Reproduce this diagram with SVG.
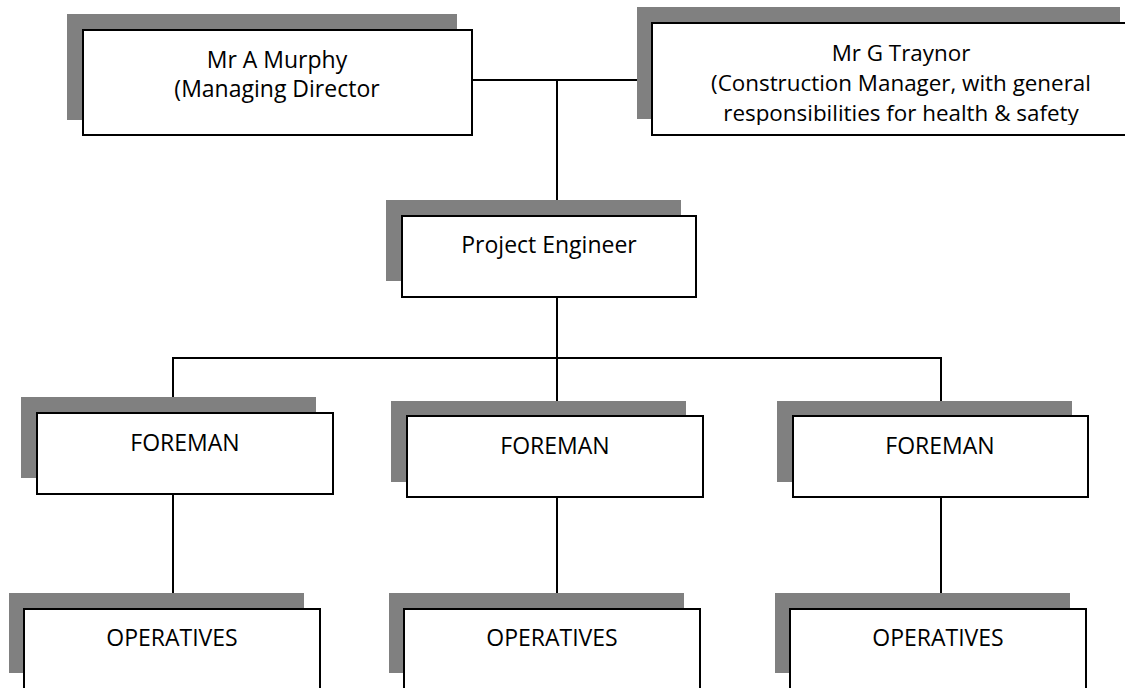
<svg xmlns="http://www.w3.org/2000/svg" width="1125" height="688" viewBox="0 0 1125 688">
<style>
.sh{fill:#808080;stroke:none}
.bx{fill:#fff;stroke:#000;stroke-width:2}
.t{font-family:"Open Sans","Liberation Sans",sans-serif;font-size:23px;fill:#000;text-anchor:middle}
.t2{font-size:22.4px}
.c{stroke:#000;stroke-width:2;fill:none}
</style>
<defs>
<clipPath id="clipT"><rect x="652" y="23" width="480" height="102"/></clipPath>
</defs>
<rect width="1125" height="688" fill="#fff"/>
<g id="connectors">
<line class="c" x1="472" y1="80" x2="652" y2="80"/>
<line class="c" x1="557" y1="80" x2="557" y2="216"/>
<line class="c" x1="557" y1="297" x2="557" y2="416"/>
<polyline class="c" points="173,413 173,358 941,358 941,416"/>
<line class="c" x1="173" y1="494" x2="173" y2="609"/>
<line class="c" x1="557" y1="497" x2="557" y2="609"/>
<line class="c" x1="941" y1="497" x2="941" y2="609"/>
</g>
<g id="murphy">
<rect class="sh" x="67" y="14" width="390" height="106"/>
<rect class="bx" x="83" y="30" width="389" height="105"/>
<text class="t" x="277" y="68">Mr A Murphy</text>
<text class="t" x="277" y="97">(Managing Director</text>
</g>
<g id="traynor">
<rect class="sh" x="637" y="7" width="483" height="112"/>
<rect class="bx" x="652" y="23" width="480" height="112"/>
<g clip-path="url(#clipT)">
<text class="t t2" x="901" y="61">Mr G Traynor</text>
<text class="t t2" x="901" y="91">(Construction Manager, with general</text>
<text class="t t2" x="901" y="121">responsibilities for health &amp; safety</text>
</g>
</g>
<g id="project-engineer">
<rect class="sh" x="386" y="200" width="295" height="81"/>
<rect class="bx" x="402" y="216" width="294" height="81"/>
<text class="t" x="549" y="253">Project Engineer</text>
</g>
<g id="foreman-1">
<rect class="sh" x="21" y="397" width="295" height="81"/>
<rect class="bx" x="37" y="413" width="296" height="81"/>
<text class="t" x="185" y="451">FOREMAN</text>
</g>
<g id="foreman-2">
<rect class="sh" x="391" y="401" width="295" height="81"/>
<rect class="bx" x="407" y="416" width="296" height="81"/>
<text class="t" x="555" y="454">FOREMAN</text>
</g>
<g id="foreman-3">
<rect class="sh" x="777" y="401" width="295" height="81"/>
<rect class="bx" x="793" y="416" width="295" height="81"/>
<text class="t" x="940" y="454">FOREMAN</text>
</g>
<g id="operatives-1">
<rect class="sh" x="9" y="593" width="295" height="80"/>
<rect class="bx" x="24" y="609" width="296" height="90"/>
<text class="t" x="172" y="646">OPERATIVES</text>
</g>
<g id="operatives-2">
<rect class="sh" x="389" y="593" width="295" height="80"/>
<rect class="bx" x="404" y="609" width="296" height="90"/>
<text class="t" x="552" y="646">OPERATIVES</text>
</g>
<g id="operatives-3">
<rect class="sh" x="775" y="593" width="295" height="80"/>
<rect class="bx" x="790" y="609" width="296" height="90"/>
<text class="t" x="938" y="646">OPERATIVES</text>
</g>
</svg>
